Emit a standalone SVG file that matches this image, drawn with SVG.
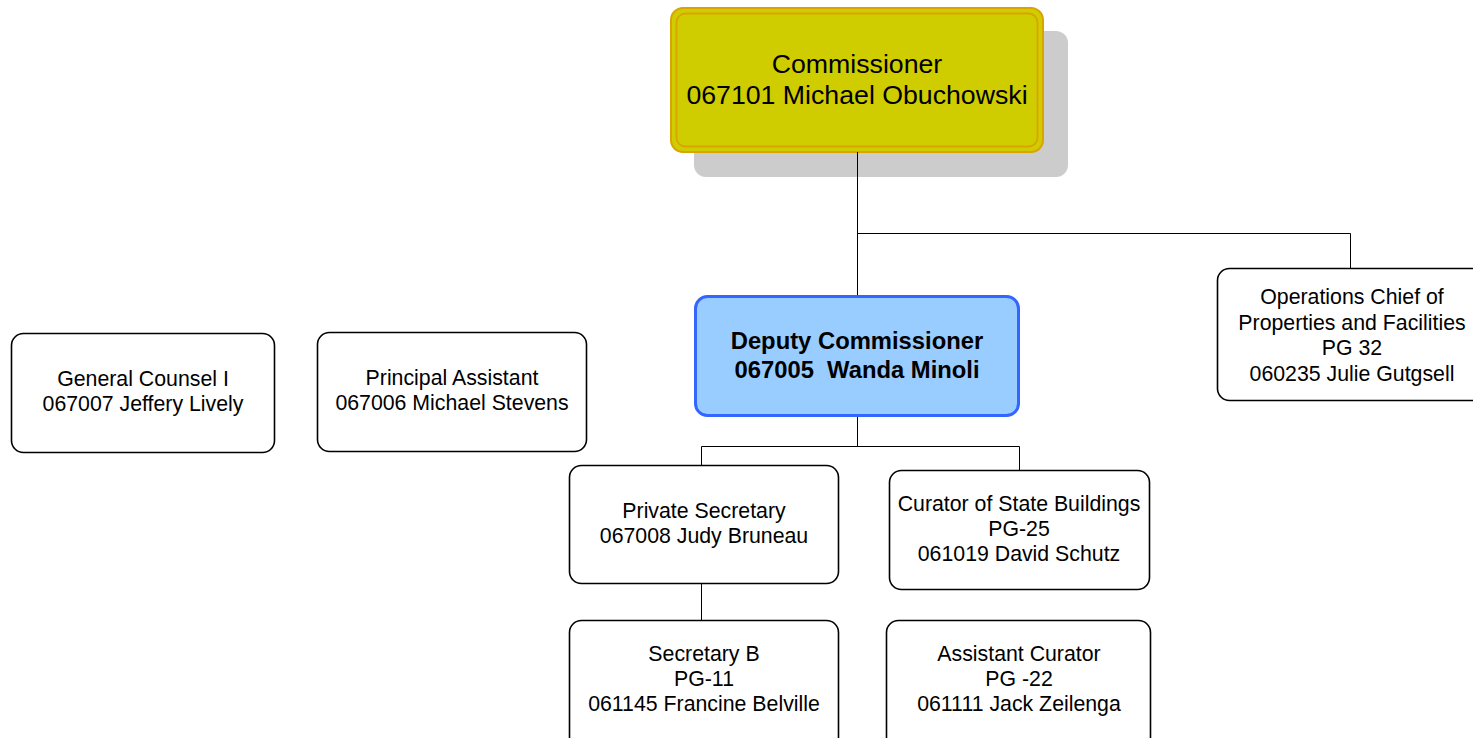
<svg xmlns="http://www.w3.org/2000/svg" width="1473" height="738" viewBox="0 0 1473 738">
<style>
.box{fill:#fff;stroke:#000;stroke-width:1.6}
.t{font-family:"Liberation Sans",Arial,sans-serif;font-size:21.3px;fill:#000;text-anchor:middle}
.big{font-size:26.7px}
.bold{font-weight:bold;font-size:23.8px}
.conn{stroke:#000;stroke-width:1;fill:none}
</style>
<rect width="1473" height="738" fill="#fff"/>
<g id="commissioner">
<rect x="694" y="31" width="374" height="146" rx="12" fill="#cccccc"/>
<rect x="671" y="8" width="372" height="144" rx="12" fill="#cfcc00" stroke="#d9a300" stroke-width="2"/>
<rect x="676.5" y="13.5" width="361" height="133" rx="9" fill="none" stroke="#d9a300" stroke-width="1.8"/>
<text class="t big" x="857" y="72.5">Commissioner</text>
<text class="t big" x="857" y="104">067101 Michael Obuchowski</text>
</g>
<g id="connectors">
<path class="conn" d="M857.5,152 V296 M857.5,233.5 H1350.5 V268"/>
<path class="conn" d="M857.5,416 V446.5 M701.5,465 V446.5 H1019.5 V470"/>
<path class="conn" d="M701.5,584 V620"/>
</g>
<g id="deputy">
<rect x="695.5" y="296.5" width="323" height="119" rx="12" fill="#99ccff" stroke="#3366ff" stroke-width="3"/>
<text class="t bold" x="857" y="349">Deputy Commissioner</text>
<text class="t bold" x="857" y="378" xml:space="preserve">067005  Wanda Minoli</text>
</g>
<g id="operations">
<rect class="box" x="1217.5" y="268.5" width="280" height="132" rx="12"/>
<text class="t" x="1352" y="304">Operations Chief of</text>
<text class="t" x="1352" y="329.5">Properties and Facilities</text>
<text class="t" x="1352" y="355">PG 32</text>
<text class="t" x="1352" y="380.5">060235 Julie Gutgsell</text>
</g>
<g id="general-counsel">
<rect class="box" x="11.5" y="333.5" width="263" height="119" rx="12"/>
<text class="t" x="143" y="386">General Counsel I</text>
<text class="t" x="143" y="411">067007 Jeffery Lively</text>
</g>
<g id="principal-assistant">
<rect class="box" x="317.5" y="332.5" width="269" height="119" rx="12"/>
<text class="t" x="452" y="385">Principal Assistant</text>
<text class="t" x="452" y="410">067006 Michael Stevens</text>
</g>
<g id="private-secretary">
<rect class="box" x="569.5" y="465.5" width="269" height="118" rx="12"/>
<text class="t" x="704" y="518">Private Secretary</text>
<text class="t" x="704" y="543">067008 Judy Bruneau</text>
</g>
<g id="curator">
<rect class="box" x="889.5" y="470.5" width="260" height="119" rx="12"/>
<text class="t" x="1019" y="511">Curator of State Buildings</text>
<text class="t" x="1019" y="536">PG-25</text>
<text class="t" x="1019" y="561">061019 David Schutz</text>
</g>
<g id="secretary-b">
<rect class="box" x="569.5" y="620.5" width="269" height="130" rx="12"/>
<text class="t" x="704" y="661">Secretary B</text>
<text class="t" x="704" y="686">PG-11</text>
<text class="t" x="704" y="711">061145 Francine Belville</text>
</g>
<g id="assistant-curator">
<rect class="box" x="886.5" y="620.5" width="264" height="130" rx="12"/>
<text class="t" x="1019" y="661">Assistant Curator</text>
<text class="t" x="1019" y="686">PG -22</text>
<text class="t" x="1019" y="711">061111 Jack Zeilenga</text>
</g>
</svg>
